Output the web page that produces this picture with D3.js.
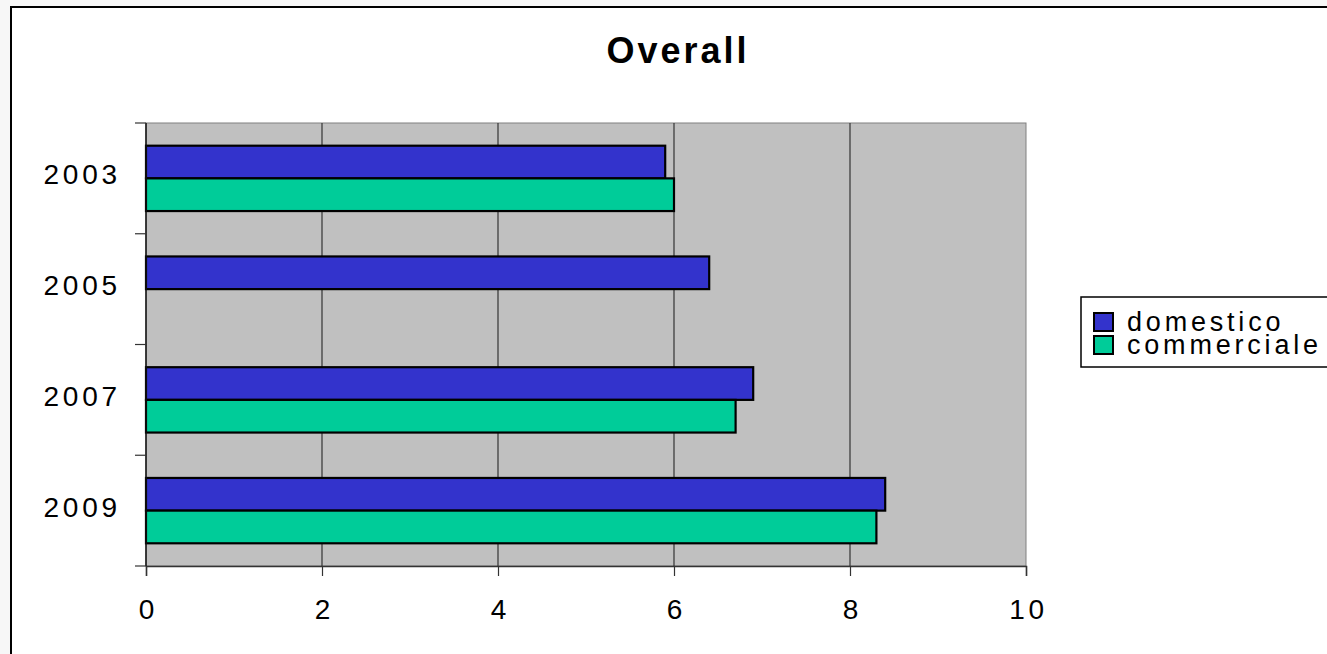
<!DOCTYPE html>
<html>
<head>
<meta charset="utf-8">
<script src="https://cdn.jsdelivr.net/npm/d3@7"></script>
<style>
  html, body { margin: 0; padding: 0; background: #f7f7f7; }
  svg { display: block; font-family: "Liberation Sans", Arial, sans-serif; }
</style>
</head>
<body>
<svg id="chart" width="1327" height="654"></svg>
<script>
// Data
const years = ["2003", "2005", "2007", "2009"];
const seriesNames = ["domestico", "commerciale"];
const domestico = [5.9, 6.4, 6.9, 8.4];
const commerciale = [6.0, null, 6.7, 8.3];
const xTicks = [0, 2, 4, 6, 8, 10];
const colors = ["#3333cc", "#00cc99"];
const title = "Overall";

const seriesValues = [domestico, commerciale];
const rows = years.map((y, i) => ({
  year: y,
  values: seriesNames.map((s, j) => ({ key: s, value: seriesValues[j][i], idx: j }))
}));

const svg = d3.select("#chart");

// chart frame
svg.append("rect")
  .attr("x", 11).attr("y", 7)
  .attr("width", 1400).attr("height", 700)
  .attr("fill", "#ffffff")
  .attr("stroke", "#000").attr("stroke-width", 2);

const plot = { left: 146, right: 1026, top: 123, bottom: 566 };

const x = d3.scaleLinear().domain([0, 10]).range([plot.left, plot.right]);
const y = d3.scaleBand().domain(years).range([plot.top, plot.bottom])
  .paddingInner(0.41).paddingOuter(0.205);
const ySub = d3.scaleBand().domain(seriesNames).range([0, y.bandwidth()]);

// plot background
svg.append("rect")
  .attr("x", plot.left).attr("y", plot.top)
  .attr("width", plot.right - plot.left).attr("height", plot.bottom - plot.top)
  .attr("fill", "#c0c0c0")
  .attr("stroke", "#808080").attr("stroke-width", 1);

// vertical gridlines
svg.append("g").selectAll("line")
  .data(xTicks.filter(t => t > 0 && t < 10))
  .join("line")
  .attr("x1", d => x(d)).attr("x2", d => x(d))
  .attr("y1", plot.top).attr("y2", plot.bottom)
  .attr("stroke", "#333").attr("stroke-width", 1.2);

// bars
const groups = svg.append("g").selectAll("g")
  .data(rows)
  .join("g")
  .attr("transform", d => `translate(0,${y(d.year)})`);

groups.selectAll("rect")
  .data(d => d.values.filter(v => v.value != null))
  .join("rect")
  .attr("x", x(0))
  .attr("y", d => ySub(d.key))
  .attr("width", d => x(d.value) - x(0))
  .attr("height", ySub.bandwidth())
  .attr("fill", d => colors[d.idx])
  .attr("stroke", "#000").attr("stroke-width", 2.2);

// x axis
const xAxis = d3.axisBottom(x).tickValues(xTicks).tickSize(10).tickFormat(d3.format("d"));
const gx = svg.append("g")
  .attr("transform", `translate(0,${plot.bottom})`)
  .call(xAxis);
gx.select(".domain").attr("stroke", "#333").attr("stroke-width", 1.5);
gx.selectAll(".tick line").attr("stroke", "#333").attr("stroke-width", 1.2);
gx.selectAll(".tick text")
  .attr("y", 0).attr("dy", null)
  .attr("transform", "translate(2,53)")
  .style("font-size", "28px").style("letter-spacing", "3.8px")
  .attr("fill", "#000")
  .attr("font-family", "Liberation Sans, Arial, sans-serif");

// y axis: category ticks at band boundaries
const yBound = d3.scaleLinear().domain([0, years.length]).range([plot.top, plot.bottom]);
const gy = svg.append("g");
gy.append("line")
  .attr("x1", plot.left).attr("x2", plot.left)
  .attr("y1", plot.top).attr("y2", plot.bottom)
  .attr("stroke", "#111").attr("stroke-width", 1.5);
gy.selectAll("line.tk")
  .data(d3.range(years.length + 1))
  .join("line").attr("class", "tk")
  .attr("x1", plot.left - 11).attr("x2", plot.left)
  .attr("y1", d => yBound(d)).attr("y2", d => yBound(d))
  .attr("stroke", "#333").attr("stroke-width", 1.2);
gy.selectAll("text")
  .data(years)
  .join("text")
  .attr("x", 121)
  .attr("y", d => y(d) + y.bandwidth() / 2 + 6)
  .attr("text-anchor", "end")
  .style("font-size", "28px").style("letter-spacing", "3.8px")
  .attr("fill", "#000")
  .text(d => d);

// title
svg.append("text")
  .attr("x", 678).attr("y", 63)
  .attr("text-anchor", "middle")
  .style("font-size", "36px").style("font-weight", "bold").style("letter-spacing", "3px")
  .attr("fill", "#000")
  .text(title);

// legend
const legend = svg.append("g");
legend.append("rect")
  .attr("x", 1081).attr("y", 297)
  .attr("width", 300).attr("height", 70)
  .attr("fill", "#fff").attr("stroke", "#000").attr("stroke-width", 1.5);
const li = legend.selectAll("g.item")
  .data(seriesNames)
  .join("g").attr("class", "item")
  .attr("transform", (d, i) => `translate(1094,${313 + i * 23})`);
li.append("rect")
  .attr("width", 19).attr("height", 18)
  .attr("fill", (d, i) => colors[i])
  .attr("stroke", "#000").attr("stroke-width", 2);
li.append("text")
  .attr("x", 33).attr("y", 18)
  .style("font-size", "27px").style("letter-spacing", "3.8px")
  .attr("fill", "#000")
  .text(d => d);
</script>
</body>
</html>
